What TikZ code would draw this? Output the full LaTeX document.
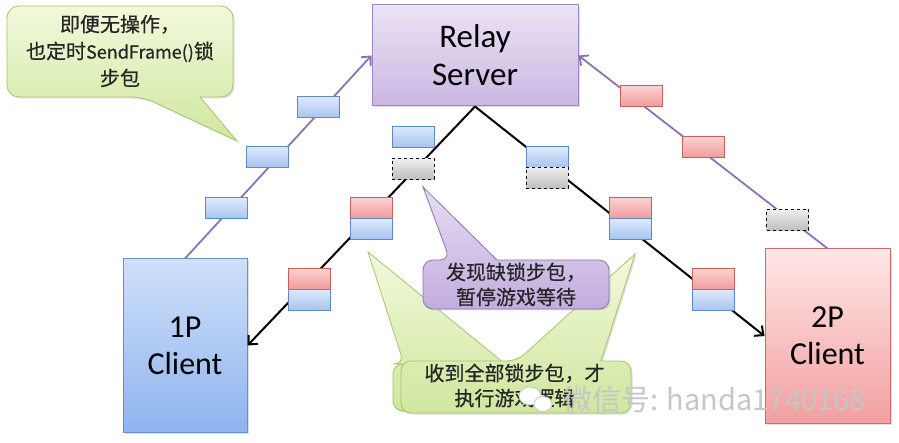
\documentclass[tikz,border=0pt]{standalone}
\usepackage{fontspec}
\setmainfont{Carlito}
\newfontfamily\cjk{Noto Sans CJK SC}[FakeBold=0.6]
\newfontfamily\cjkw{Noto Sans CJK SC}
\usetikzlibrary{arrows.meta,shadows}
\definecolor{rlT}{HTML}{EBE3F4}\definecolor{rlB}{HTML}{CBB7E2}\definecolor{rlD}{HTML}{9C87C2}
\definecolor{plin}{HTML}{8A72B5}
\definecolor{c1T}{HTML}{CFE0F9}\definecolor{c1B}{HTML}{8EB4EE}\definecolor{c1D}{HTML}{6A90CC}
\definecolor{c2T}{HTML}{FFE6E6}\definecolor{c2B}{HTML}{F2A0A0}\definecolor{c2D}{HTML}{D06A6A}
\definecolor{bpT}{HTML}{DDE9FB}\definecolor{bpB}{HTML}{A6C4F0}\definecolor{bpD}{HTML}{5E88C6}
\definecolor{rpT}{HTML}{FBD0D0}\definecolor{rpB}{HTML}{F09A9A}\definecolor{rpD}{HTML}{C8605E}
\definecolor{gpT}{HTML}{EEEEEE}\definecolor{gpB}{HTML}{BEBEBE}
\definecolor{cgT}{HTML}{F2F9DC}\definecolor{cgB}{HTML}{CFE79E}\definecolor{cgD}{HTML}{A7C46A}
\definecolor{cpT}{HTML}{E6DDF2}\definecolor{cpB}{HTML}{C2ADDE}\definecolor{cpD}{HTML}{8C74B8}
\begin{document}
\begin{tikzpicture}[x=1pt,y=-1pt,
  shd/.style={drop shadow={opacity=0.25,shadow xshift=1.5pt,shadow yshift=-1.5pt}},
  bigbox/.style={draw, line width=1pt, inner sep=0pt, align=center, shd},
  pkt/.style={minimum width=42pt, minimum height=21pt, inner sep=0pt, line width=1pt},
  bpk/.style={pkt, draw=bpD, top color=bpT, bottom color=bpB},
  rpk/.style={pkt, draw=rpD, top color=rpT, bottom color=rpB},
  gpk/.style={pkt, draw=black, dashed, top color=gpT, bottom color=gpB},
  plink/.style={draw=plin, line width=1.8pt, -{Straight Barb[length=7pt,width=13pt]}},
  blink/.style={draw=black, line width=2pt, -{Straight Barb[length=7pt,width=13pt]}},
  callg/.style={draw=cgD, line width=0.8pt, top color=cgT, bottom color=cgB, shd},
  callp/.style={draw=cpD, line width=0.8pt, top color=cpT, bottom color=cpB, shd},
  cjkt/.style={align=center, inner sep=0pt, text=black!85, font=\cjk\fontsize{20}{25}\selectfont}
]
\useasboundingbox (0,0) rectangle (899,443);

% main boxes
\node[bigbox, draw=rlD, top color=rlT, bottom color=rlB, minimum width=206pt, minimum height=101pt, font=\fontsize{33}{38}\selectfont] (relay) at (475,55.5) {Relay\\Server};
\node[bigbox, draw=c1D, top color=c1T, bottom color=c1B, minimum width=124pt, minimum height=173pt, font=\fontsize{32}{37}\selectfont] (c1) at (185,345.5) {1P\\Client};
\node[bigbox, draw=c2D, top color=c2T, bottom color=c2B, minimum width=125pt, minimum height=174pt, font=\fontsize{32}{37}\selectfont] (c2) at (827.5,336) {2P\\Client};

% connectors
\draw[plink] (c1.north) -- (relay.west);
\draw[plink] (c2.north) -- (relay.east);
\draw[blink] (relay.south) -- (c1.east);
\draw[blink] (relay.south) -- (c2.west);

% packets on 1P -> server
\node[bpk] (u1) at (226,208.5) {};
\node[bpk] (u2) at (267.5,157) {};
\node[bpk] (u3) at (318.5,107.5) {};
% packets on 2P -> server
\node[rpk] (r1) at (641,96.5) {};
\node[rpk] (r2) at (703,147.5) {};
\node[gpk] (g2) at (787.5,220) {};
% packets on server -> 1P
\node[bpk] (b0) at (413,137) {};
\node[gpk] (g1) at (413,169) {};
\node[rpk] (d1r) at (371.5,208.5) {};
\node[bpk] (d1b) at (371.5,229.5) {};
\node[rpk] (d2r) at (309,279) {};
\node[bpk] (d2b) at (309,300) {};
% packets on server -> 2P
\node[bpk] (bb1) at (547,157.5) {};
\node[gpk] (gg1) at (547,178) {};
\node[rpk] (d3r) at (630,208.5) {};
\node[bpk] (d3b) at (630,229.5) {};
\node[rpk] (d4r) at (713,279.5) {};
\node[bpk] (d4b) at (713,300.5) {};

% top-left callout
\path[callg] (120,6) [rounded corners=12pt] -- (7,6) -- (7,97) -- (143,97) [sharp corners] -- (237,141) -- (200,97) [rounded corners=12pt] -- (233,97) -- (233,6) -- cycle;
\node[cjkt, font=\cjk\fontsize{20}{27}\selectfont] (t1) at (120,51) {即便无操作，\\也定时{\fontsize{18}{27}\selectfont SendFrame()}锁\\步包};

% bottom green callouts
\path[callg] (500,411) [rounded corners=10pt] -- (393,411) -- (393,364) -- (404,364) [sharp corners] -- (368,252) -- (505,364) [rounded corners=10pt] -- (622,364) -- (622,411) -- cycle;
\path[callg] (500,413) [rounded corners=10pt] -- (401,413) -- (401,361) -- (517,361) [sharp corners] -- (635,254) -- (601,361) [rounded corners=10pt] -- (631,361) -- (631,413) -- cycle;
\node[cjkt] (t3) at (514.5,385.5) {收到全部锁步包，才\\执行游戏逻辑};

% purple callout
\path[callp] (530,309) [rounded corners=10pt] -- (423,309) -- (423,260) -- (450,260) [sharp corners] -- (423,187) -- (497,260) [rounded corners=10pt] -- (609,260) -- (609,309) -- cycle;
\node[cjkt] (t2) at (516,284.5) {发现缺锁步包，\\暂停游戏等待};

% watermark
\path[draw=gray!45, fill=white, line width=0.8pt] (530,396) ellipse [x radius=11pt, y radius=9pt];
\path[draw=gray!45, fill=white, line width=0.8pt] (543,404) ellipse [x radius=9pt, y radius=7.5pt];
\node[anchor=west, inner sep=0pt, text=gray!45, font=\cjkw\fontsize{29}{32}\selectfont] (wm) at (563,400) {微信号: handa1740168};
\end{tikzpicture}
\end{document}
